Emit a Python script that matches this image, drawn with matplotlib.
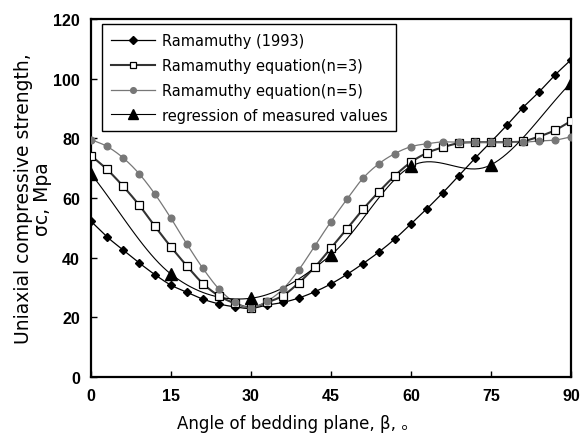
import numpy as np
import matplotlib
matplotlib.use("Agg")
import matplotlib.pyplot as plt

plt.rcParams["font.family"] = ["Liberation Sans", "Noto Sans CJK KR", "DejaVu Sans"]

angle = list(range(0, 91, 3))
rama_1993 = [52.2, 47.0, 42.6, 38.3, 34.3, 30.8, 28.4, 26.1, 24.5, 23.5, 23.0,
             24.1, 25.0, 26.5, 28.6, 31.2, 34.4, 38.0, 41.9, 46.3, 51.3,
             56.4, 61.8, 67.5, 73.3, 78.8, 84.4, 90.3, 95.5, 101.2, 106.3]
rama_n3 = [74.2, 69.6, 64.0, 57.7, 50.5, 43.6, 37.2, 31.3, 27.2, 24.7, 23.3,
           25.0, 27.3, 31.6, 36.9, 43.2, 49.6, 56.2, 62.1, 67.5, 72.0,
           75.1, 77.0, 78.4, 78.7, 78.7, 78.7, 79.0, 80.6, 82.7, 85.8]
rama_n5 = [79.6, 77.3, 73.5, 68.2, 61.3, 53.2, 44.5, 36.4, 29.5, 25.0, 23.3,
           25.4, 29.5, 36.0, 44.0, 52.1, 59.6, 66.6, 71.5, 74.9, 77.2,
           78.2, 78.8, 78.7, 78.7, 78.7, 78.7, 78.7, 79.1, 79.4, 80.5]
meas_angle = [0, 15, 30, 45, 60, 75, 90]
meas_value = [68.1, 34.5, 26.4, 40.9, 70.6, 71.1, 98.6]


def smooth(x, y, n=20):
    # Catmull-Rom curve through the points (like spreadsheet "smoothed line")
    x = np.asarray(x, float)
    y = np.asarray(y, float)
    px = np.concatenate([[2 * x[0] - x[1]], x, [2 * x[-1] - x[-2]]])
    py = np.concatenate([[2 * y[0] - y[1]], y, [2 * y[-1] - y[-2]]])
    t = np.linspace(0, 1, n, endpoint=False)
    xs, ys = [], []
    for i in range(1, len(px) - 2):
        for p, out in ((px, xs), (py, ys)):
            p0, p1, p2, p3 = p[i - 1], p[i], p[i + 1], p[i + 2]
            out.extend(0.5 * (2 * p1 + (-p0 + p2) * t
                              + (2 * p0 - 5 * p1 + 4 * p2 - p3) * t ** 2
                              + (-p0 + 3 * p1 - 3 * p2 + p3) * t ** 3))
    xs.append(x[-1])
    ys.append(y[-1])
    return xs, ys


fig = plt.figure(figsize=(5.81, 4.35), dpi=100)
ax = fig.add_axes([0.1566, 0.131, 0.826, 0.823])

series = [
    (angle, rama_1993, "Ramamuthy (1993)",
     dict(color="black", lw=0.9, marker="D", ms=4.5, mfc="black", mec="black")),
    (angle, rama_n3, "Ramamuthy equation(n=3)",
     dict(color="#333333", lw=1.5, marker="s", ms=5.8, mfc="white", mec="black", mew=0.9)),
    (angle, rama_n5, "Ramamuthy equation(n=5)",
     dict(color="#777777", lw=0.9, marker="o", ms=4.8, mfc="#777777", mec="#777777")),
    (meas_angle, meas_value, "regression of measured values",
     dict(color="black", lw=0.8, marker="^", ms=8, mfc="black", mec="black")),
]

handles = []
for x, y, label, st in series:
    sx, sy = smooth(x, y)
    ax.plot(sx, sy, color=st["color"], lw=st["lw"], zorder=2)
    ax.plot(x, y, ls="none", marker=st["marker"], ms=st["ms"], mfc=st["mfc"],
            mec=st["mec"], mew=st.get("mew", 1), zorder=3)
    h, = ax.plot([], [], color=st["color"], lw=st["lw"], marker=st["marker"],
                 ms=st["ms"] * 0.85, mfc=st["mfc"], mec=st["mec"], mew=st.get("mew", 1),
                 label=label)
    handles.append(h)

ax.set_xlim(0, 90)
ax.set_ylim(0, 120)
ax.set_xticks([0, 15, 30, 45, 60, 75, 90])
ax.set_yticks(range(0, 121, 20))
ax.tick_params(direction="in", length=4, width=1, labelsize=11.5, pad=8)
for lab in ax.get_xticklabels() + ax.get_yticklabels():
    lab.set_fontweight("bold")
for sp in ax.spines.values():
    sp.set_linewidth(1.6)

ax.set_xlabel("Angle of bedding plane, β, 。", fontsize=12,
              family=["DejaVu Sans", "Noto Sans CJK KR"])
ax.xaxis.set_label_coords(0.431, -0.102)
ax.set_ylabel("Uniaxial compressive strength,\nσc, Mpa", fontsize=13.5,
              family=["DejaVu Sans"], linespacing=1.0)
ax.yaxis.set_label_coords(-0.081, 0.5)

leg = ax.legend(handles=handles, loc="upper left", bbox_to_anchor=(0.023, 0.986),
                borderaxespad=0, frameon=True, fancybox=False,
                prop={"family": "DejaVu Sans", "size": 10.5},
                edgecolor="black", framealpha=1, handlelength=3.0,
                labelspacing=0.68, borderpad=0.6, handletextpad=0.5)
leg.get_frame().set_linewidth(1.0)

fig.savefig("out.png", dpi=100)
